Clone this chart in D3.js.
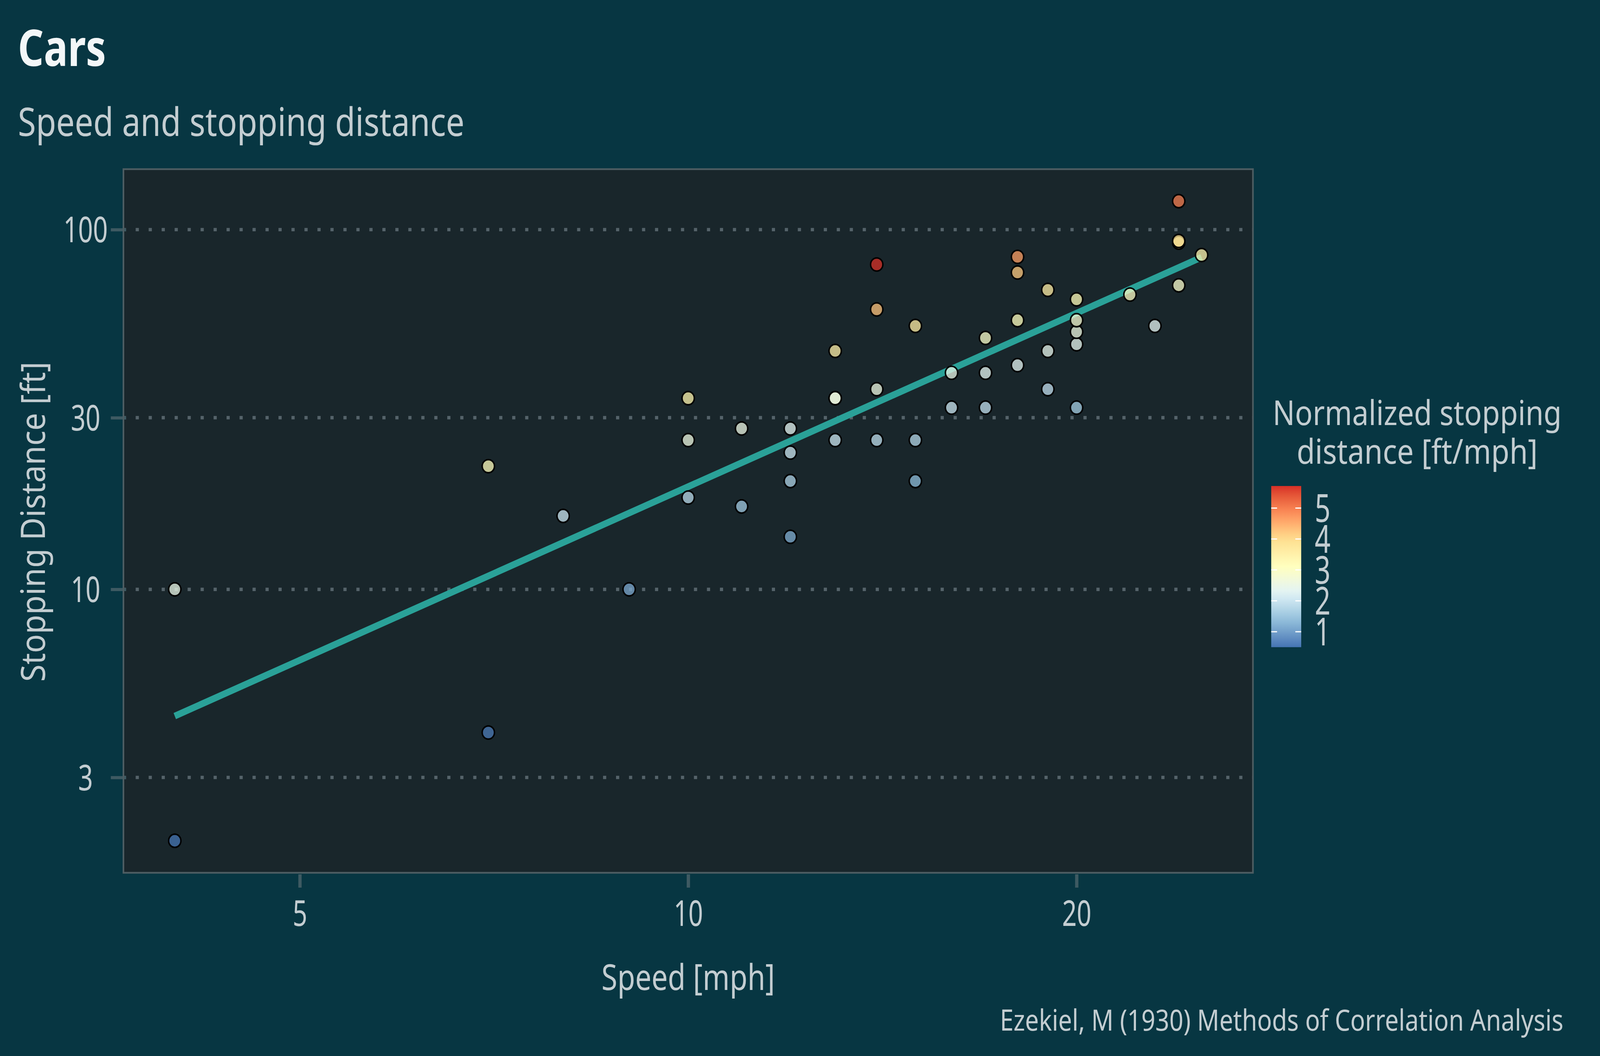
<!DOCTYPE html>
<html>
<head>
<meta charset="utf-8">
<script src="https://d3js.org/d3.v7.min.js"></script>
<style>
	html,body{margin:0;padding:0;overflow:hidden;background:#073642;}
	#chart svg{display:block;}
	text{font-family:"Noto Sans",sans-serif;}
</style>
</head>
<body>
<div id="chart"></div>
<script>
//cars data (speed in mph, stopping distance in ft)
var speed = [4,4,7,7,8,9,10,10,10,11,11,12,12,12,12,13,13,13,13,14,14,14,14,15,15,15,16,16,17,17,17,18,18,18,18,19,19,19,20,20,20,20,20,22,23,24,24,24,24,25];
var dist = [2,10,4,22,16,10,18,26,34,17,28,14,20,24,28,26,34,34,46,26,36,60,80,20,26,54,32,40,32,40,50,42,56,76,84,36,46,68,32,48,52,56,64,66,54,70,92,93,120,85];

//tick labels
var xTicks = [5,10,20];
var yTicks = [3,10,30,100];
var legendTicks = [1,2,3,4,5];

//RdYlBu, low to high
var palette = ['#4575b4','#91bfdb','#e0f3f8','#ffffbf','#fee090','#fc8d59','#d73027'];

var width = 4375,
		height = 2703;

var panel = {left:337.5, top:433, right:3426, bottom:2234};

var textColor = '#c3cdd1',
		gridColor = '#55636a',
		tickColor = '#3e5a62',
		squeezeFactor = 0.77;

//the drawing is laid out in a 4375x2703 box and stretched to the window
var svg = d3.select('#chart')
	.append('svg')
		.attr('viewBox', '0 0 ' + width + ' ' + height)
		.attr('preserveAspectRatio', 'none')
		.style('width', '100vw')
		.style('height', '100vh');

svg.append('rect')
	.attr('width', width)
	.attr('height', height)
	.attr('fill', '#073642');

//squeeze text horizontally to mimic the condensed face
function squeeze(sel, w){
	sel.each(function(){
		var t = d3.select(this);
		var len = w || this.getComputedTextLength() * squeezeFactor;
		t.attr('textLength', len).attr('lengthAdjust', 'spacingAndGlyphs');
	});
}

//log domain with 5% expansion like ggplot
function expandLog(values){
	var e = d3.extent(values).map(Math.log10);
	var pad = (e[1] - e[0]) * 0.05;
	return [Math.pow(10, e[0] - pad), Math.pow(10, e[1] + pad)];
}

var x = d3.scaleLog().domain(expandLog(speed)).range([panel.left, panel.right]);
var y = d3.scaleLog().domain(expandLog(dist)).range([panel.bottom, panel.top]);

var ratio = speed.map(function(s, i){ return dist[i] / s; });
var rExt = d3.extent(ratio);
var color = d3.scaleLinear()
	.domain(palette.map(function(c, i){ return rExt[0] + i * (rExt[1] - rExt[0]) / (palette.length - 1); }))
	.range(palette)
	.interpolate(d3.interpolateLab);

//titles
svg.append('text')
	.attr('x', 49)
	.attr('y', 169)
	.attr('fill', '#f3f7f8')
	.attr('font-size', 130)
	.attr('font-weight', 'bold')
	.text('Cars')
	.call(squeeze, 241);

svg.append('text')
	.attr('x', 49)
	.attr('y', 348)
	.attr('fill', textColor)
	.attr('font-size', 100)
	.text('Speed and stopping distance')
	.call(squeeze, 1221);

//panel background
svg.append('rect')
	.attr('x', panel.left)
	.attr('y', panel.top)
	.attr('width', panel.right - panel.left)
	.attr('height', panel.bottom - panel.top)
	.attr('fill', '#19262b');

//horizontal grid (dotted)
svg.append('g')
	.selectAll('line')
	.data(yTicks)
	.enter()
	.append('line')
		.attr('x1', panel.left - 2)
		.attr('x2', panel.right)
		.attr('y1', function(d){ return y(d); })
		.attr('y2', function(d){ return y(d); })
		.attr('stroke', gridColor)
		.attr('stroke-width', 8.7)
		.attr('stroke-dasharray', '8.7 26.8');

//y axis
var yAxis = svg.append('g')
	.attr('transform', 'translate(345,0)')
	.call(d3.axisLeft(y).tickValues(yTicks).tickSize(42).tickFormat(d3.format('d')));
yAxis.select('.domain').remove();
yAxis.selectAll('.tick line')
	.attr('stroke', tickColor)
	.attr('stroke-width', 8);
yAxis.selectAll('.tick text')
	.attr('x', 234 - 345)
	.attr('dy', '0.35em')
	.attr('text-anchor', 'middle')
	.attr('fill', textColor)
	.attr('font-size', 92)
	.attr('font-family', '"Noto Sans",sans-serif')
	.call(squeeze);

//x axis
var xAxis = svg.append('g')
	.attr('transform', 'translate(0,2238)')
	.call(d3.axisBottom(x).tickValues(xTicks).tickSize(34).tickFormat(d3.format('d')));
xAxis.select('.domain').remove();
xAxis.selectAll('.tick line')
	.attr('stroke', tickColor)
	.attr('stroke-width', 9);
xAxis.selectAll('.tick text')
	.attr('y', 132)
	.attr('dy', 0)
	.attr('fill', textColor)
	.attr('font-size', 91)
	.attr('font-family', '"Noto Sans",sans-serif')
	.call(squeeze);

//axis titles
svg.append('text')
	.attr('x', (panel.left + panel.right) / 2)
	.attr('y', 2534)
	.attr('text-anchor', 'middle')
	.attr('fill', textColor)
	.attr('font-size', 91)
	.text('Speed [mph]')
	.call(squeeze, 474);

svg.append('text')
	.attr('transform', 'translate(122.5,' + ((panel.top + panel.bottom) / 2 + 2) + ') rotate(-90)')
	.attr('text-anchor', 'middle')
	.attr('fill', textColor)
	.attr('font-size', 92)
	.text('Stopping Distance [ft]')
	.call(squeeze, 819);

//fitted line in log-log space
var lx = speed.map(Math.log10),
		ly = dist.map(Math.log10);
var mx = d3.mean(lx),
		my = d3.mean(ly);
var slope = d3.sum(lx, function(v, i){ return (v - mx) * (ly[i] - my); }) / d3.sum(lx, function(v){ return (v - mx) * (v - mx); });
var intercept = my - slope * mx;
var sExt = d3.extent(speed);

svg.append('line')
	.attr('x1', x(sExt[0]))
	.attr('x2', x(sExt[1]))
	.attr('y1', y(Math.pow(10, intercept + slope * Math.log10(sExt[0]))))
	.attr('y2', y(Math.pow(10, intercept + slope * Math.log10(sExt[1]))))
	.attr('stroke', '#2aa198')
	.attr('stroke-width', 17);

//points
svg.append('g')
	.selectAll('circle')
	.data(speed)
	.enter()
	.append('circle')
		.attr('cx', function(d){ return x(d); })
		.attr('cy', function(d, i){ return y(dist[i]); })
		.attr('r', 16.8)
		.attr('fill', function(d, i){ return color(ratio[i]); })
		.attr('fill-opacity', 0.75)
		.attr('stroke', '#000')
		.attr('stroke-width', 4);

//panel border
svg.append('rect')
	.attr('x', panel.left)
	.attr('y', panel.top)
	.attr('width', panel.right - panel.left)
	.attr('height', panel.bottom - panel.top)
	.attr('fill', 'none')
	.attr('stroke', '#4d5d62')
	.attr('stroke-width', 4.5);

//legend
var legend = {left:3476, right:3558};
var ls = d3.scaleLinear().domain([1, 5]).range([1617, 1300.5]);

var grad = svg.append('defs')
	.append('linearGradient')
		.attr('id', 'bar')
		.attr('x1', 0).attr('x2', 0)
		.attr('y1', 1).attr('y2', 0);
grad.selectAll('stop')
	.data(d3.range(0, 1.0001, 0.05))
	.enter()
	.append('stop')
		.attr('offset', function(d){ return d; })
		.attr('stop-color', function(d){ return color(rExt[0] + d * (rExt[1] - rExt[0])); });

svg.append('rect')
	.attr('x', legend.left)
	.attr('y', ls(rExt[1]))
	.attr('width', legend.right - legend.left)
	.attr('height', ls(rExt[0]) - ls(rExt[1]))
	.attr('fill', 'url(#bar)');

var lt = svg.append('g');
lt.selectAll('line.l')
	.data(legendTicks)
	.enter()
	.append('line')
		.attr('x1', legend.left)
		.attr('x2', legend.left + 16)
		.attr('y1', function(d){ return ls(d); })
		.attr('y2', function(d){ return ls(d); })
		.attr('stroke', '#fff')
		.attr('stroke-width', 3);
lt.selectAll('line.r')
	.data(legendTicks)
	.enter()
	.append('line')
		.attr('x1', legend.right - 16)
		.attr('x2', legend.right)
		.attr('y1', function(d){ return ls(d); })
		.attr('y2', function(d){ return ls(d); })
		.attr('stroke', '#fff')
		.attr('stroke-width', 3);
lt.selectAll('text')
	.data(legendTicks)
	.enter()
	.append('text')
		.attr('x', 3595)
		.attr('y', function(d){ return ls(d); })
		.attr('dy', '0.36em')
		.attr('fill', textColor)
		.attr('font-size', 98)
		.text(function(d){ return d; })
		.call(squeeze);

svg.append('text')
	.attr('x', 3875)
	.attr('y', 1088)
	.attr('text-anchor', 'middle')
	.attr('fill', textColor)
	.attr('font-size', 88)
	.text('Normalized stopping')
	.call(squeeze, 790);
svg.append('text')
	.attr('x', 3875)
	.attr('y', 1187)
	.attr('text-anchor', 'middle')
	.attr('fill', textColor)
	.attr('font-size', 88)
	.text('distance [ft/mph]')
	.call(squeeze, 659);

//caption
svg.append('text')
	.attr('x', 4275)
	.attr('y', 2638)
	.attr('text-anchor', 'end')
	.attr('fill', textColor)
	.attr('font-size', 74)
	.text('Ezekiel, M (1930) Methods of Correlation Analysis')
	.call(squeeze, 1541);
</script>
</body>
</html>
